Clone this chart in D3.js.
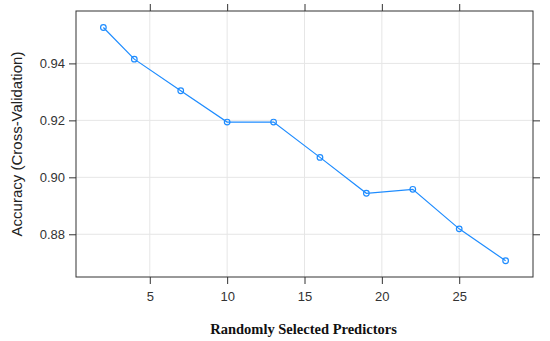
<!DOCTYPE html>
<html><head><meta charset="utf-8">
<script src="https://cdn.jsdelivr.net/npm/d3@7"></script>
<style>body{margin:0;background:#fff}svg{display:block}</style>
</head><body>
<script>
const predictors = [2, 4, 7, 10, 13, 16, 19, 22, 25, 28];
const accuracy = [0.9526, 0.9415, 0.9304, 0.9194, 0.9194, 0.9070, 0.8944, 0.8958, 0.8819, 0.8707];
const xTicks = [5, 10, 15, 20, 25];
const yTicks = [0.88, 0.90, 0.92, 0.94];

const W = 550, H = 341;
const L = 76, R = 533, T = 11, B = 277;
const svg = d3.select("body").append("svg").attr("width", W).attr("height", H);

const x = d3.scaleLinear().domain([0.23, 29.77]).range([L, R]);
const y = d3.scaleLinear().domain([0.8650, 0.9584]).range([B, T]);

// grid
svg.append("g").selectAll("line").data(xTicks).join("line")
  .attr("x1", d => x(d)).attr("x2", d => x(d)).attr("y1", T).attr("y2", B)
  .attr("stroke", "#e6e6e6").attr("stroke-width", 1);
svg.append("g").selectAll("line").data(yTicks).join("line")
  .attr("y1", d => y(d)).attr("y2", d => y(d)).attr("x1", L).attr("x2", R)
  .attr("stroke", "#e6e6e6").attr("stroke-width", 1);

const tickFont = "Liberation Sans, Arial, sans-serif";
// axes
const gB = svg.append("g").attr("transform", `translate(0,${B})`)
  .call(d3.axisBottom(x).tickValues(xTicks).tickSize(7).tickPadding(5).tickFormat(d3.format("d")));
const gT = svg.append("g").attr("transform", `translate(0,${T})`)
  .call(d3.axisTop(x).tickValues(xTicks).tickSize(7).tickFormat(""));
const gL = svg.append("g").attr("transform", `translate(${L},0)`)
  .call(d3.axisLeft(y).tickValues(yTicks).tickSize(7).tickPadding(4).tickFormat(d3.format(".2f")));
const gR = svg.append("g").attr("transform", `translate(${R},0)`)
  .call(d3.axisRight(y).tickValues(yTicks).tickSize(7).tickFormat(""));
[gB, gT, gL, gR].forEach(g => {
  g.select(".domain").remove();
  g.selectAll(".tick line").attr("stroke", "#333").attr("stroke-width", 1);
  g.selectAll("text").attr("font-family", tickFont).attr("font-size", 13).attr("fill", "#333");
});
gB.selectAll("text").attr("dy", "0.9em");

// panel border
svg.append("rect").attr("x", L).attr("y", T).attr("width", R - L).attr("height", B - T)
  .attr("fill", "none").attr("stroke", "#333").attr("stroke-width", 1);

const data = predictors.map((p, i) => ({p, a: accuracy[i]}));
svg.append("path").datum(data)
  .attr("d", d3.line().x(d => x(d.p)).y(d => y(d.a)))
  .attr("fill", "none").attr("stroke", "#1e8cff").attr("stroke-width", 1.2);
svg.append("g").selectAll("circle").data(data).join("circle")
  .attr("cx", d => x(d.p)).attr("cy", d => y(d.a)).attr("r", 2.8)
  .attr("fill", "none").attr("stroke", "#1e8cff").attr("stroke-width", 1.2);

// labels
svg.append("text").attr("transform", `translate(22,${(T + B) / 2}) rotate(-90)`)
  .attr("text-anchor", "middle").attr("font-family", tickFont).attr("font-size", 15)
  .attr("fill", "#222").text("Accuracy (Cross-Validation)");
svg.append("text").attr("x", (L + R) / 2 - 1).attr("y", 334)
  .attr("text-anchor", "middle").attr("font-family", "Liberation Serif, serif").attr("font-weight", "bold")
  .attr("font-size", 14.5).attr("fill", "#111").text("Randomly Selected Predictors");
</script>
</body></html>
